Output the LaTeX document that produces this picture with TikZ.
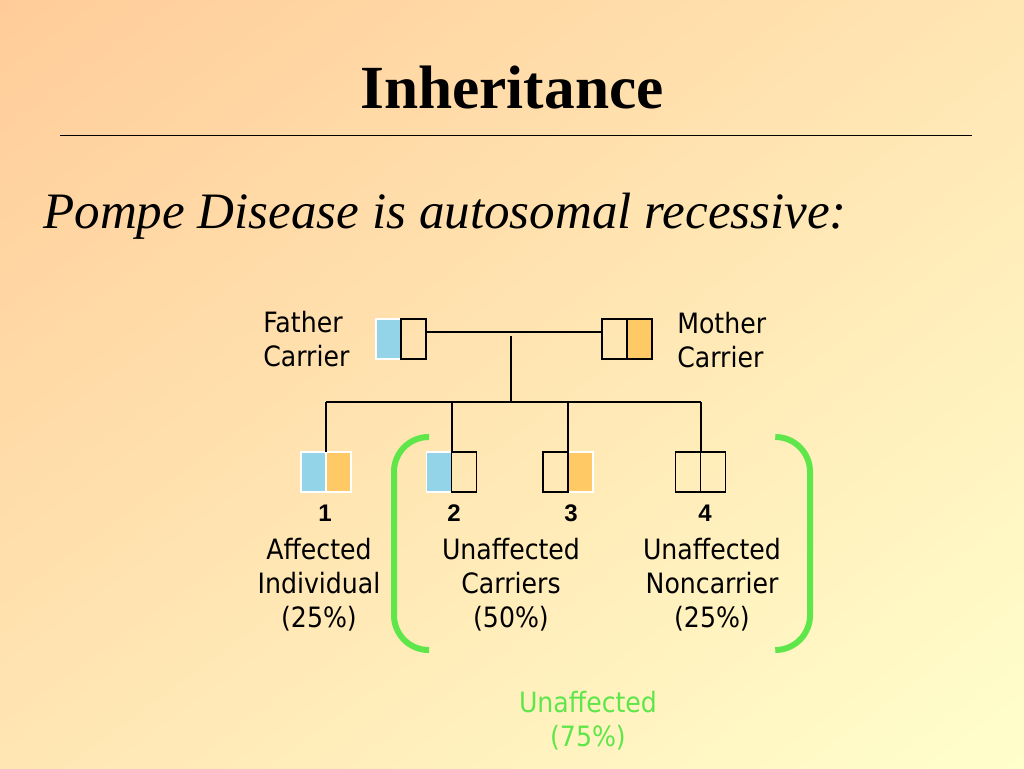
\documentclass[tikz,border=0pt]{standalone}
\usepackage{fontspec}
\setmainfont{Liberation Serif}
\newfontfamily\labelfont[FakeStretch=0.9]{DejaVu Sans}
\newfontfamily\numfont{Liberation Sans}
\usetikzlibrary{positioning,calc,shadings}
\definecolor{peach}{HTML}{FFCC99}
\definecolor{wheat}{HTML}{FFE6B3}
\definecolor{cream}{HTML}{FFFFCC}
\definecolor{sky}{HTML}{94D4E8}
\definecolor{gold}{HTML}{FFC966}
\definecolor{leaf}{HTML}{5FE64A}

\begin{document}
\begin{tikzpicture}[x=0.75pt,y=-0.75pt,
  half/.style={rectangle,minimum width=18.75pt,minimum height=30pt,inner sep=0pt,outer sep=0pt},
  open/.style={half,draw=black,line width=1.2pt},
  skyhalf/.style={half,fill=sky,draw=white,line width=0.8pt},
  goldhalf/.style={half,fill=gold,draw=white,line width=0.8pt},
  line/.style={black,line width=1.5pt},
  lbl/.style={font=\labelfont\fontsize{21}{25.5}\selectfont,inner sep=0pt},
  num/.style={font=\numfont\bfseries\fontsize{18}{20}\selectfont,inner sep=0pt},
  bracket/.style={leaf,line width=4.5pt,rounded corners=26pt}]
  % slide background
  \shade[upper left=peach,upper right=wheat,lower left=wheat,lower right=cream]
    (0,0) rectangle (1024,768);
  \useasboundingbox (0,0) rectangle (1024,768);

  \node[anchor=base,font=\bfseries\fontsize{46}{50}\selectfont,inner sep=0pt] (title) at (512,108) {Inheritance};
  \coordinate (ruleL) at (60,135);
  \coordinate (ruleR) at (972,135);
  \draw[black,line width=0.75pt] (ruleL) -- (ruleR);
  \node[anchor=base west,font=\itshape\fontsize{38.3}{42}\selectfont,inner sep=0pt] (claim) at (43,228)
    {Pompe Disease is autosomal recessive:};

  % parents
  \node[skyhalf] (fb) at (388.5,339) {};
  \node[open,right=0pt of fb] (fo) {};
  \node[open,fill=gold] (mg) at (639.5,339) {};
  \node[open,left=0pt of mg] (mo) {};
  \node[lbl,anchor=west,align=left] (flab) at (263,339) {Father\\Carrier};
  \node[lbl,anchor=west,align=left] (mlab) at (677,340) {Mother\\Carrier};

  % children
  \node[skyhalf] (c1b) at (313.5,472) {};
  \node[goldhalf,right=0pt of c1b] (c1g) {};
  \node[skyhalf] (c2b) at (439,472) {};
  \node[open,right=0pt of c2b] (c2o) {};
  \node[goldhalf] (c3g) at (580.5,472) {};
  \node[open,left=0pt of c3g] (c3o) {};
  \node[open] (c4l) at (688,472) {};
  \node[open,right=0pt of c4l] (c4r) {};

  % pedigree lines
  \coordinate (mate) at (511,332);
  \coordinate (sib) at (511,402);
  \draw[line] (fo.east |- mate) -- (mo.west |- mate);
  \draw[line] ($(mate)+(0,4)$) -- (sib);
  \draw[line] (sib -| c1b.north east) -- (sib -| c4l.north east);
  \foreach \c in {c1b,c2b,c3o,c4l}{
    \draw[line] (sib -| \c.north east) -- (\c.north east);}

  \foreach \n/\x in {1/325,2/454,3/571,4/705}{
    \node[num] (n\n) at (\x,513) {\n};}

  \node[lbl,align=center] (aff) at (319,585) {Affected\\Individual\\(25\%)};
  \node[lbl,align=center] (car) at (511,585) {Unaffected\\Carriers\\(50\%)};
  \node[lbl,align=center] (non) at (712,585) {Unaffected\\Noncarrier\\(25\%)};

  % unaffected group
  \draw[bracket] (429,437) -- (394,437) -- (394,650) -- (429,650);
  \draw[bracket] (776,437) -- (810,437) -- (810,650) -- (776,650);
  \node[lbl,align=center,text=leaf] (unaff) at (588,721) {Unaffected\\(75\%)};
\end{tikzpicture}
\end{document}
